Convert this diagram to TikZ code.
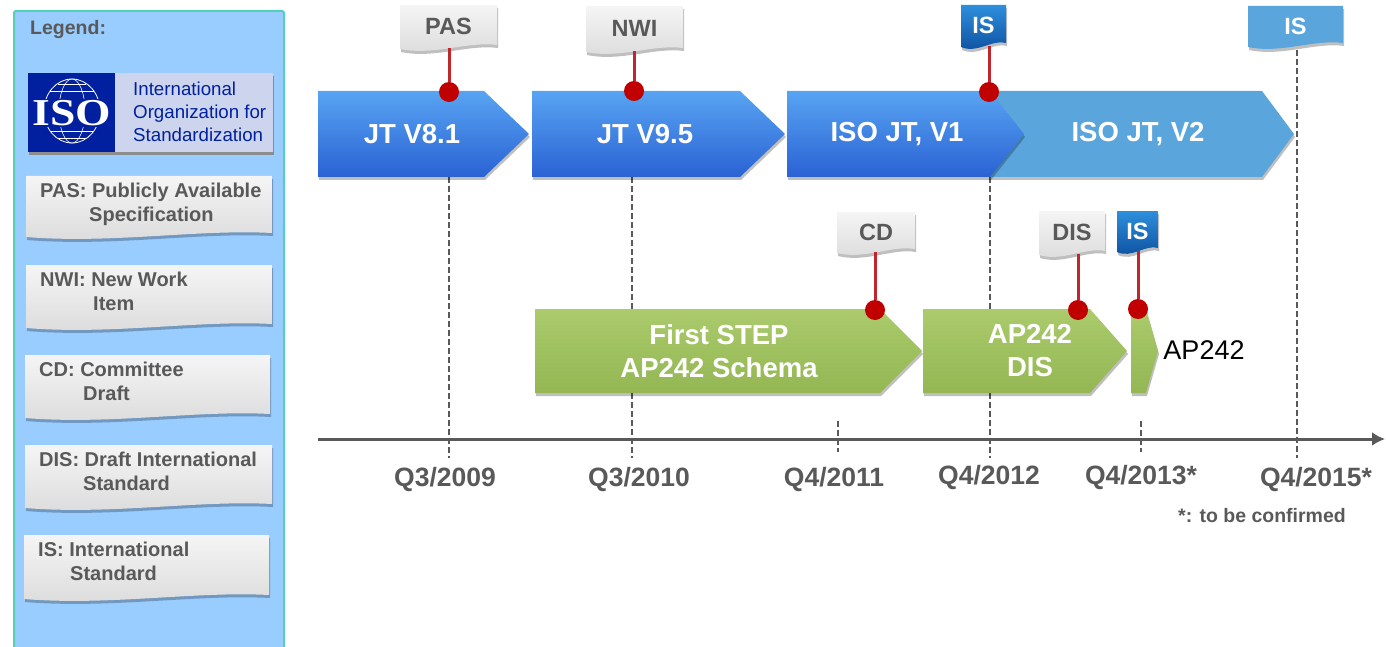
\documentclass[tikz,border=0pt]{standalone}
\usepackage{fontspec}
\usetikzlibrary{arrows.meta}
\setmainfont{Liberation Sans}
\newfontfamily\isofont{Liberation Serif}
\definecolor{panelblue}{HTML}{99CCFF}
\definecolor{panelline}{HTML}{55D0B8}
\definecolor{isonavy}{HTML}{00209F}
\definecolor{isopale}{HTML}{CDD5EE}
\definecolor{textgray}{HTML}{595959}
\definecolor{barhatch}{HTML}{5AA6DC}
\definecolor{bluetop}{HTML}{58A4F2}
\definecolor{bluemid}{HTML}{4488EC}
\definecolor{bluelow}{HTML}{2A62D4}
\definecolor{flagtop}{HTML}{2E8FDC}
\definecolor{flaglow}{HTML}{0B4E9E}
\definecolor{greentop}{HTML}{ABCB6C}
\definecolor{greenlow}{HTML}{94B653}
\definecolor{dotred}{HTML}{C00000}
\definecolor{stemred}{HTML}{C0272D}
\newcommand{\wavepath}[4]{(#1,#2) -- (#3,#2) -- (#3,{#4-7})
  .. controls ({#3-0.3*(#3-#1)},{#4-11}) and ({#1+0.35*(#3-#1)},{#4+4}) .. (#1,{#4-3}) -- cycle}
\tikzset{
  softshadow/.style={preaction={fill=black,fill opacity=.25,transform canvas={xshift=1pt,yshift=-3pt}}},
  card/.style={softshadow,top color=white!96!black,bottom color=black!14},
  flaggray/.style={card},
  flagblue/.style={softshadow,top color=flagtop,bottom color=flaglow},
  flaghatch/.style={softshadow,fill=barhatch},
  flagtext/.style={inner sep=0pt,font=\fontsize{23.5}{26}\selectfont\bfseries},
  cardtext/.style={inner sep=0pt,align=left,anchor=north west,text=textgray,font=\fontsize{20}{24}\selectfont\bfseries},
  barblue/.style={softshadow,top color=bluetop,middle color=bluemid,bottom color=bluelow},
  barhatched/.style={softshadow,fill=barhatch},
  bargreenfill/.style={softshadow,top color=greentop,bottom color=greenlow},
  bartext/.style={inner sep=0pt,text=white,align=center,font=\fontsize{27.5}{33}\selectfont\bfseries},
  reddot/.style={circle,fill=dotred,minimum size=20pt,inner sep=0pt},
  stem/.style={stemred,line width=3pt},
  guide/.style={textgray,line width=2.5pt,dash pattern=on 6pt off 3pt},
  ticklabel/.style={inner sep=0pt,text=textgray,font=\fontsize{26.5}{30}\selectfont\bfseries}
}
\begin{document}
\begin{tikzpicture}[x=1pt,y=-1pt]
\useasboundingbox (0,0) rectangle (1386,647);

% legend panel
\draw[panelline,line width=2pt,fill=panelblue,rounded corners=2pt] (14,11) rectangle (284,649);
\node[inner sep=0pt,anchor=west,text=textgray,font=\fontsize{19.5}{22}\selectfont\bfseries] (legendTitle) at (30,30) {Legend:};

% iso box
\fill[black!45] (29,76) rectangle (274,155);
\fill[isopale] (115,73) rectangle (273,152);
\fill[isonavy] (28,73) rectangle (115,152);
\draw[white,line width=.8pt] (72,111) ellipse (28 and 32);
\draw[white,line width=.6pt] (72,111) ellipse (13 and 32);
\draw[white,line width=.6pt] (50,91) -- (94,91) (50,131) -- (94,131) (58,84) -- (86,84) (58,138) -- (86,138);
\node[fill=isonavy,inner sep=1pt,text=white,font=\fontsize{38}{40}\selectfont\bfseries\isofont,xscale=1.2] (isoLogo) at (72,113) {ISO};
\node[inner sep=0pt,anchor=west,align=left,text=isonavy,font=\fontsize{18.7}{23}\selectfont] (isoName) at (133,112) {International\\Organization for\\Standardization};

% legend cards
\foreach \name/\xa/\xb/\ya/\yb/\body in {
  PAS/26/272/176/240/{PAS: Publicly Available\\\hspace*{49pt}Specification},
  NWI/26/272/265/331/{NWI: New Work\\\hspace*{53pt}Item},
  CD/25/270/355/421/{CD: Committee\\\hspace*{44pt}Draft},
  DIS/25/272/445/511/{DIS: Draft International\\\hspace*{44pt}Standard},
  IS/24/269/535/602/{IS: International\\\hspace*{32pt}Standard}}{
   \path[card] \wavepath{\xa}{\ya}{\xb}{\yb};
   \node[cardtext] (card\name) at ({\xa+14},{\ya+7}) {\body};
   }

% guide lines and ticks
\foreach \name/\x/\ya/\yb in {A/449/177/458,B/632/177/458,C/838/421/452,D/990/177/458,E/1141/421/452,F/1297/50/458}{
   \coordinate (top\name) at (\x,\ya);
   \coordinate (bot\name) at (\x,\yb);
   \draw[guide] (top\name) -- (bot\name);
   }

% time axis
\coordinate (axisL) at (318,439);
\coordinate (axisR) at (1385,439);
\draw[textgray,line width=3pt,-{Latex[length=13pt,width=14pt]}] (axisL) -- (axisR);

\foreach \name/\x/\y/\body in {A/445/480/Q3\slash 2009,B/639/480/Q3\slash 2010,C/834/480/Q4\slash 2011,D/989/478/Q4\slash 2012,E/1141/478/Q4\slash 2013*,F/1316/480/Q4\slash 2015*}
   \node[ticklabel] (label\name) at (\x,\y) {\body};
\node[inner sep=0pt,text=textgray,font=\fontsize{19.5}{22}\selectfont\bfseries] (noteStar) at (1262,516) {*: to be confirmed};

% bars
\foreach \name/\xa/\xs/\xb/\ya/\yb/\look in {
  V2/990/1262/1294/91/177/barhatched,
  JTa/318/484/529/91/177/barblue,
  JTb/532/740/785/91/177/barblue,
  V1/787/990/1024/91/177/barblue,
  STEP/535/880/922/309/393/bargreenfill,
  DISb/923/1090/1127/309/393/bargreenfill,
  APf/1131/1146/1158/309/393/bargreenfill}
   \path[\look] (\xa,\ya) -- (\xs,\ya) -- (\xb,{(\ya+\yb)/2}) -- (\xs,\yb) -- (\xa,\yb) -- cycle;

\node[bartext] (textJTa) at (412,134) {JT V8.1};
\node[bartext] (textJTb) at (645,134) {JT V9.5};
\node[bartext] (textV1) at (897,134) {ISO JT, V1};
\node[bartext] (textV2) at (1138,134) {ISO JT, V2};
\node[bartext] (textSTEP) at (719,351) {First STEP\\AP242 Schema};
\node[bartext] (textDIS) at (1030,351) {AP242\\DIS};
\node[inner sep=0pt,font=\fontsize{27}{30}\selectfont] (textAP) at (1204,350) {AP242};

% milestones
\foreach \name/\xa/\xb/\ya/\yb/\body/\look/\ink in {
  PAS/400/497/5/52/PAS/flaggray/textgray,
  NWI/586/683/6/55/NWI/flaggray/textgray,
  ISa/961/1006/5/50/IS/flagblue/white,
  ISb/1248/1343/6/50/IS/flaghatch/white,
  CD/837/915/212/256/CD/flaggray/textgray,
  DIS/1039/1105/211/258/DIS/flaggray/textgray,
  ISc/1117/1158/211/255/IS/flagblue/white}{
   \path[\look] \wavepath{\xa}{\ya}{\xb}{\yb};
   \node[flagtext,text=\ink,minimum width={(\xb-\xa)*1pt},minimum height={(\yb-\ya-4)*1pt}] (flag\name) at ({(\xa+\xb)/2},{(\ya+\yb)/2-2}) {\body};
   }

\node[reddot] (dotPAS) at (449,92) {};
\node[reddot] (dotNWI) at (634,91) {};
\node[reddot] (dotISa) at (989,92) {};
\node[reddot] (dotCD) at (875,310) {};
\node[reddot] (dotDIS) at (1078,310) {};
\node[reddot] (dotISc) at (1138,309) {};

\foreach \name in {PAS,NWI,ISa,CD,DIS,ISc}
   \draw[stem] (flag\name.south -| dot\name) -- (dot\name);
\end{tikzpicture}
\end{document}
